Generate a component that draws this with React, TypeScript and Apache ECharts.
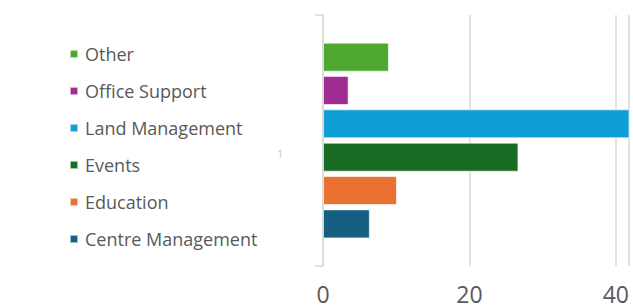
import React, { useEffect, useRef } from "react";
import * as echarts from "echarts";

const categories = ["1"];
const seriesNames = ["Other", "Office Support", "Land Management", "Events", "Education", "Centre Management"];
const seriesValues = [9, 3.5, 42, 26.7, 10.1, 6.4];
const seriesColors = ["#4EA72E", "#A02B93", "#0F9ED5", "#196B24", "#E97132", "#156082"];
const xTicks = [0, 20, 40];

export default function App() {
  const ref = useRef<HTMLDivElement>(null);
  useEffect(() => {
    if (!ref.current) return;
    const chart = echarts.init(ref.current, undefined, { renderer: "svg" });
    const font = "'Open Sans', sans-serif";
    chart.setOption({
      animation: false,
      legend: {
        orient: "vertical",
        left: 64,
        top: 40,
        data: seriesNames,
        icon: "rect",
        itemWidth: 8,
        itemHeight: 8,
        itemGap: 19,
        textStyle: { fontFamily: font, fontSize: 18, color: "#595959", lineHeight: 18, padding: [0, 0, 0, 2] },
      },
      grid: { left: 323, right: 4, top: 15, bottom: 39, containLabel: false },
      xAxis: {
        type: "value",
        min: xTicks[0],
        max: 41.8,
        interval: xTicks[1] - xTicks[0],
        axisLine: { show: false },
        axisTick: { show: false },
        axisLabel: { fontFamily: font, fontSize: 23, color: "#595959", margin: 16 },
        splitLine: { lineStyle: { color: "#d9d9d9", width: 1.5 } },
      },
      yAxis: {
        type: "category",
        data: categories,
        axisLine: { show: true, lineStyle: { color: "#d9d9d9", width: 1.5 } },
        axisTick: { show: true, length: 8, lineStyle: { color: "#d9d9d9", width: 1.5 } },
        axisLabel: { fontFamily: font, fontSize: 10, color: "#c0c0c0", margin: 40, verticalAlign: "top", padding: [8, 0, 0, 0] },
      },
      series: seriesNames.map((name, i) => ({
        name,
        type: "bar",
        data: [seriesValues[i]],
        barWidth: 29,
        barGap: "15%",
        itemStyle: { color: seriesColors[i], borderColor: "rgba(255,255,255,0.6)", borderWidth: 1 },
      })),
    });
    return () => chart.dispose();
  }, []);
  return <div ref={ref} style={{ width: 633, height: 305, position: "absolute", left: 0, top: 0 }} />;
}
